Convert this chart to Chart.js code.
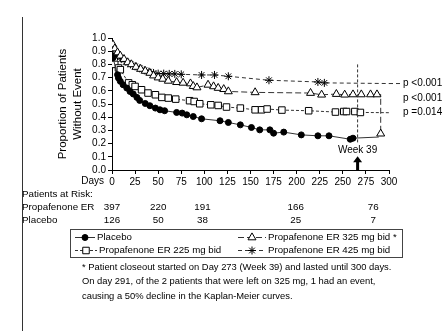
<!DOCTYPE html>
<html>
<head>
<meta charset="utf-8">
<script src="https://cdn.jsdelivr.net/npm/chart.js@4.4.1/dist/chart.umd.min.js"></script>
<style>
  html, body { margin: 0; padding: 0; background: #fff; }
  #wrap { position: relative; width: 448px; height: 331px; overflow: hidden; }
  #frame { position: absolute; left: 22px; top: 17px; width: 1px; height: 314px; background: #333; }
  canvas { position: absolute; left: 0; top: 0; }
</style>
</head>
<body>
<div id="wrap">
  <canvas id="kmChart" width="448" height="331"></canvas>
  <div id="frame"></div>
</div>
<script>
const FONT = '"Liberation Sans", Arial, sans-serif';
const INK = "#000";
const LINE = "#333";

// ── Data (days, proportion without event) ──

const placeboDays = [1, 6, 7, 9, 12, 16, 19.5, 23, 27, 30, 36, 41, 47, 52, 57, 70, 76, 81, 88, 97, 117, 126, 139, 151, 160, 171, 175, 186, 205, 223, 235, 258, 261, 289];
const placeboVals = [0.85, 0.722, 0.697, 0.672, 0.646, 0.621, 0.595, 0.576, 0.55, 0.527, 0.504, 0.487, 0.469, 0.456, 0.449, 0.436, 0.431, 0.418, 0.405, 0.388, 0.373, 0.36, 0.342, 0.322, 0.304, 0.304, 0.279, 0.287, 0.266, 0.259, 0.259, 0.233, 0.241, 0.25];

const er225Days = [3, 7, 9, 18, 22, 25, 32, 39, 47, 54, 61, 69, 84, 89, 95, 107, 115, 124, 139, 155, 162, 168, 184, 213, 242, 251, 254, 263, 269, 300];
const er225Vals = [0.8, 0.773, 0.76, 0.66, 0.646, 0.633, 0.608, 0.583, 0.57, 0.55, 0.545, 0.537, 0.525, 0.519, 0.502, 0.494, 0.489, 0.477, 0.469, 0.456, 0.456, 0.462, 0.454, 0.449, 0.439, 0.443, 0.443, 0.443, 0.436, 0.434];

const er325Days = [1, 3, 6, 9, 13, 17, 21, 26, 31, 36, 41, 45, 50, 55, 61, 70, 77, 85, 88, 92, 104, 110, 115, 121, 126, 155, 215, 227, 243, 252, 261, 270, 280, 287, 291, 291];
const er325Vals = [0.95, 0.92, 0.89, 0.865, 0.84, 0.815, 0.8, 0.78, 0.765, 0.75, 0.735, 0.715, 0.7, 0.69, 0.675, 0.665, 0.66, 0.655, 0.635, 0.625, 0.645, 0.633, 0.621, 0.612, 0.595, 0.588, 0.583, 0.57, 0.575, 0.57, 0.572, 0.572, 0.572, 0.572, 0.572, 0.275];

const er425Days = [2, 6, 10, 15, 20, 25, 30, 35, 40, 45, 50, 56, 62, 68, 75, 97, 111, 126, 170, 223, 230, 300];
const er425Vals = [0.88, 0.86, 0.84, 0.82, 0.8, 0.785, 0.77, 0.755, 0.745, 0.735, 0.73, 0.73, 0.728, 0.728, 0.725, 0.72, 0.72, 0.71, 0.68, 0.667, 0.66, 0.655];

const pLabels = ["p <0.001", "p <0.001", "p =0.014"];
const pLevels = [0.655, 0.54, 0.435];

const riskDays = [0, 50, 98, 199, 283];
const riskPropafenone = [397, 220, 191, 166, 76];
const riskPlacebo = [126, 50, 38, 25, 7];

const week39Day = 266;

const footnote = [
  "* Patient closeout started on Day 273 (Week 39) and lasted until 300 days.",
  "On day 291, of the 2 patients that were left on 325 mg, 1 had an event,",
  "causing a 50% decline in the Kaplan-Meier curves.",
];

// ── Apufunktiot ──

function toPoints(days, vals) {
  return days.map((d, i) => ({ x: d, y: vals[i] }));
}

// last point of a curve is just the line end, no marker
function markerUntil(lastMarked, r) {
  return (ctx) => (ctx.dataIndex > lastMarked ? 0 : r);
}

function drawSample(ctx, ds, x1, x2, y) {
  ctx.save();
  ctx.strokeStyle = ds.borderColor;
  ctx.lineWidth = 1;
  ctx.setLineDash(ds.borderDash || []);
  ctx.beginPath();
  ctx.moveTo(x1, y);
  ctx.lineTo(x2, y);
  ctx.stroke();
  ctx.setLineDash([]);
  ctx.fillStyle = ds.pointBackgroundColor;
  ctx.strokeStyle = INK;
  Chart.helpers.drawPoint(ctx, {
    pointStyle: ds.pointStyle,
    radius: ds.legendRadius,
    rotation: 0,
    borderWidth: 1,
  }, (x1 + x2) / 2, y);
  ctx.restore();
}

// ── Extra drawing: labels, week 39 marker, risk table, legend, footnote ──

const annotations = {
  id: "annotations",
  afterDraw(chart) {
    const ctx = chart.ctx;
    const xs = chart.scales.x;
    const ys = chart.scales.y;
    ctx.save();
    ctx.fillStyle = INK;
    ctx.textBaseline = "middle";

    // Days
    ctx.font = "10px " + FONT;
    ctx.textAlign = "right";
    ctx.fillText("Days", 104, 181);

    // p-values
    ctx.textAlign = "left";
    pLabels.forEach((t, i) => {
      ctx.fillText(t, xs.right + 14, ys.getPixelForValue(pLevels[i]));
    });
    ctx.strokeStyle = LINE;
    ctx.setLineDash([4, 3]);
    ctx.beginPath();
    ctx.moveTo(xs.right, ys.getPixelForValue(0.655));
    ctx.lineTo(xs.right + 11, ys.getPixelForValue(0.655));
    ctx.stroke();

    // week 39
    const wx = xs.getPixelForValue(week39Day);
    ctx.setLineDash([3, 2]);
    ctx.beginPath();
    ctx.moveTo(wx, ys.getPixelForValue(0.8));
    ctx.lineTo(wx, ys.getPixelForValue(0.2));
    ctx.stroke();
    ctx.setLineDash([]);
    ctx.textAlign = "center";
    ctx.fillText("Week 39", wx, ys.getPixelForValue(0.15));
    const tip = ys.getPixelForValue(0.105);
    ctx.beginPath();
    ctx.moveTo(wx, tip);
    ctx.lineTo(wx - 4.5, tip + 6);
    ctx.lineTo(wx - 1.5, tip + 6);
    ctx.lineTo(wx - 1.5, ys.bottom);
    ctx.lineTo(wx + 1.5, ys.bottom);
    ctx.lineTo(wx + 1.5, tip + 6);
    ctx.lineTo(wx + 4.5, tip + 6);
    ctx.closePath();
    ctx.fill();

    // patients at risk
    ctx.font = "9.8px " + FONT;
    ctx.textAlign = "left";
    ctx.fillText("Patients at Risk:", 22, 194);
    ctx.fillText("Propafenone ER", 22, 207);
    ctx.fillText("Placebo", 22, 220);
    ctx.textAlign = "center";
    riskDays.forEach((d, i) => {
      const x = xs.getPixelForValue(d);
      ctx.fillText(String(riskPropafenone[i]), x, 207);
      ctx.fillText(String(riskPlacebo[i]), x, 220);
    });

    // legend box
    ctx.font = "9.7px " + FONT;
    ctx.strokeStyle = "#444";
    ctx.lineWidth = 1;
    ctx.strokeRect(70.5, 229.5, 332, 28);
    const ds = chart.data.datasets;
    drawSample(ctx, ds[0], 75, 95, 237.5);
    drawSample(ctx, ds[1], 75, 97, 250.5);
    drawSample(ctx, ds[2], 238, 266, 237.5);
    drawSample(ctx, ds[3], 238, 266, 250.5);
    ctx.fillStyle = INK;
    ctx.textAlign = "left";
    ctx.fillText(ds[0].label, 97, 237.5);
    ctx.fillText(ds[1].label, 99, 250.5);
    ctx.fillText(ds[2].label + " *", 268, 237.5);
    ctx.fillText(ds[3].label, 268, 250.5);

    // footnote
    ctx.font = "9.4px " + FONT;
    footnote.forEach((t, i) => ctx.fillText(t, 82, 267 + i * 14.5));
    ctx.restore();
  },
};

Chart.defaults.font.family = FONT;
Chart.defaults.color = INK;

new Chart(document.getElementById("kmChart"), {
  type: "line",
  data: {
    datasets: [
      {
        label: "Placebo",
        data: toPoints(placeboDays, placeboVals),
        borderColor: LINE,
        borderWidth: 1,
        pointStyle: "circle",
        pointRadius: markerUntil(placeboDays.length - 2, 3),
        legendRadius: 3,
        pointBackgroundColor: INK,
        pointBorderColor: INK,
        pointBorderWidth: 1,
      },
      {
        label: "Propafenone ER 225 mg bid",
        data: toPoints(er225Days, er225Vals),
        borderColor: LINE,
        borderWidth: 1,
        borderDash: [3, 2],
        pointStyle: "rect",
        pointRadius: markerUntil(er225Days.length - 2, 4.6),
        legendRadius: 4.6,
        pointBackgroundColor: "#fff",
        pointBorderColor: INK,
        pointBorderWidth: 1,
      },
      {
        label: "Propafenone ER 325 mg bid",
        data: toPoints(er325Days, er325Vals),
        borderColor: LINE,
        borderWidth: 1,
        borderDash: [6, 3],
        pointStyle: "triangle",
        pointRadius: (ctx) => (ctx.dataIndex === er325Days.length - 2 ? 0 : 4.6),
        legendRadius: 4.6,
        pointBackgroundColor: "#fff",
        pointBorderColor: INK,
        pointBorderWidth: 1,
      },
      {
        label: "Propafenone ER 425 mg bid",
        data: toPoints(er425Days, er425Vals),
        borderColor: LINE,
        borderWidth: 1,
        borderDash: [4, 3],
        pointStyle: "star",
        pointRadius: markerUntil(er425Days.length - 2, 4),
        legendRadius: 4,
        pointBackgroundColor: "#fff",
        pointBorderColor: INK,
        pointBorderWidth: 1,
      },
    ],
  },
  options: {
    responsive: false,
    animation: false,
    devicePixelRatio: 1,
    layout: { padding: { top: 38, right: 59, left: 0, bottom: 0 } },
    plugins: { legend: { display: false }, tooltip: { enabled: false } },
    scales: {
      x: {
        type: "linear",
        min: 0,
        max: 300,
        afterFit: (s) => { s.height = 161; },
        ticks: { stepSize: 25, autoSkip: false, font: { size: 10 }, color: INK, padding: 2, maxRotation: 0 },
        grid: { drawOnChartArea: false, tickLength: 4, color: INK },
        border: { color: INK },
      },
      y: {
        min: 0,
        max: 1,
        afterFit: (s) => { s.width = 112; },
        ticks: { stepSize: 0.1, autoSkip: false, font: { size: 10 }, color: INK, padding: 2, callback: (v) => v.toFixed(1) },
        grid: { drawOnChartArea: false, tickLength: 4, color: INK },
        border: { color: INK },
        title: {
          display: true,
          text: ["Proportion of Patients", "Without Event"],
          font: { size: 11.5, lineHeight: 1.3 },
          color: INK,
          padding: { top: 55, bottom: 0 },
        },
      },
    },
  },
  plugins: [annotations],
});
</script>
</body>
</html>
